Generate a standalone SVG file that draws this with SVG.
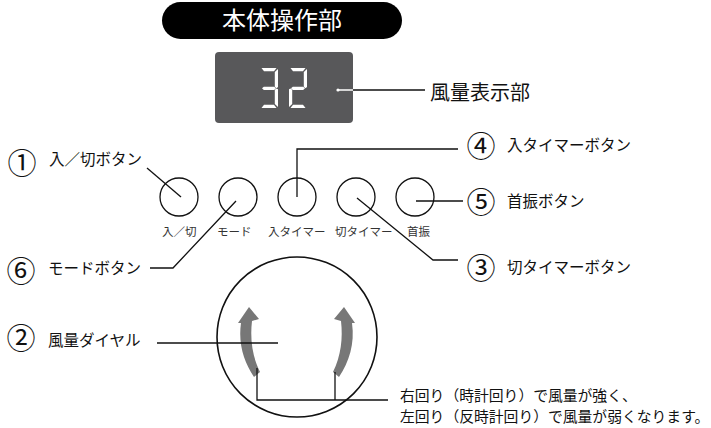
<svg xmlns="http://www.w3.org/2000/svg" width="711" height="428" viewBox="0 0 711 428">
<style>
text{font-family:"Noto Sans CJK JP","Noto Sans CJK SC",sans-serif;fill:#111}
.lbl{font-size:15.5px}
.num{font-size:29px;text-anchor:middle}
.btnl{font-size:11.5px;fill:#333}
.btn{fill:#fff;stroke:#111;stroke-width:1.3}
.ln{fill:none;stroke:#111;stroke-width:1.3}
.seg{fill:#fff}
.arw{fill:#777}
</style>
<defs>
<g id="sa"><polygon points="1.5,0 16.5,0 14,3.2 4,3.2"/></g>
<g id="sd"><polygon points="1.5,40 16.5,40 14,36.8 4,36.8"/></g>
<g id="sb"><polygon points="18,1 18,19 16.5,20.2 14.8,18.8 14.8,4"/></g>
<g id="sc"><polygon points="18,21.2 18,39 14.8,36 14.8,21.8 16.5,20.4"/></g>
<g id="se"><polygon points="0,21.2 1.5,20.4 3.2,21.8 3.2,36 0,39"/></g>
<g id="sf"><polygon points="0,1 3.2,4 3.2,18.8 1.5,20.2 0,19"/></g>
<g id="sg"><polygon points="2,20.3 3.8,18.7 14.2,18.7 16,20.3 14.2,21.9 3.8,21.9"/></g>
<path id="arrowL" d="M254 377 C244 362 238 344 241 323 L238 323 L249 307 L259 319 L252 321 C250 338 252 356 260 372 Z"/>
</defs>

<g id="title">
<rect x="162" y="2" width="240" height="37" rx="18.5" fill="#000"/>
<text x="282" y="29" style="font-size:24px;fill:#fff;text-anchor:middle">本体操作部</text>
</g>

<g id="display">
<rect x="215" y="52" width="138" height="71" rx="4" fill="#58585a"/>
<g class="seg" transform="translate(260,68)">
<use href="#sa"/><use href="#sb"/><use href="#sc"/><use href="#sd"/><use href="#sg"/>
</g>
<g class="seg" transform="translate(289,68)">
<use href="#sa"/><use href="#sb"/><use href="#sg"/><use href="#se"/><use href="#sd"/>
</g>
</g>

<g id="buttons">
<g id="btn-power"><circle class="btn" cx="179" cy="197" r="19"/><text class="btnl" x="162" y="236">入／切</text></g>
<g id="btn-mode"><circle class="btn" cx="238" cy="197" r="19"/><text class="btnl" x="217" y="236">モード</text></g>
<g id="btn-ontimer"><circle class="btn" cx="297" cy="197" r="19"/><text class="btnl" x="268" y="236">入タイマー</text></g>
<g id="btn-offtimer"><circle class="btn" cx="356" cy="197" r="19"/><text class="btnl" x="335" y="236">切タイマー</text></g>
<g id="btn-swing"><circle class="btn" cx="415" cy="197" r="19"/><text class="btnl" x="407" y="236">首振</text></g>
</g>

<g id="dial">
<circle cx="297" cy="337" r="80" fill="#fff" stroke="#111" stroke-width="1.6"/>
<use href="#arrowL" class="arw"/>
<use href="#arrowL" class="arw" transform="translate(593,0) scale(-1,1)"/>
</g>

<g id="connectors">
<line x1="338" y1="90" x2="353" y2="90" stroke="#fff" stroke-width="1.5"/>
<circle cx="338" cy="90" r="1.6" fill="#fff"/>
<line class="ln" x1="353" y1="90" x2="425" y2="90"/>
<polyline class="ln" points="147,168 181,197"/>
<polyline class="ln" points="236,201 173,268 150,268"/>
<polyline class="ln" points="297,197 297,149 458,149"/>
<polyline class="ln" points="357,198 433,260 458,260"/>
<polyline class="ln" points="416,201 463,201"/>
<polyline class="ln" points="157,343 278,343"/>
<polyline class="ln" points="257,368 257,400 388,400"/>
<polyline class="ln" points="335,372 335,400"/>
</g>

<g id="labels">
<text x="430" y="100" style="font-size:20px">風量表示部</text>
<text class="num" x="22" y="174">①</text>
<text class="lbl" x="49" y="165">入／切ボタン</text>
<text class="num" x="21" y="282">⑥</text>
<text class="lbl" x="48" y="274">モードボタン</text>
<text class="num" x="21" y="349">②</text>
<text class="lbl" x="48" y="346">風量ダイヤル</text>
<text class="num" x="481" y="157">④</text>
<text class="lbl" x="507" y="151">入タイマーボタン</text>
<text class="num" x="481" y="213">⑤</text>
<text class="lbl" x="507" y="207">首振ボタン</text>
<text class="num" x="481" y="279">③</text>
<text class="lbl" x="507" y="273">切タイマーボタン</text>
<text x="400" y="401" style="font-size:14.8px">右回り（時計回り）で風量が強く、</text>
<text x="400" y="422" style="font-size:14.8px">左回り（反時計回り）で風量が弱くなります。</text>
</g>
</svg>
